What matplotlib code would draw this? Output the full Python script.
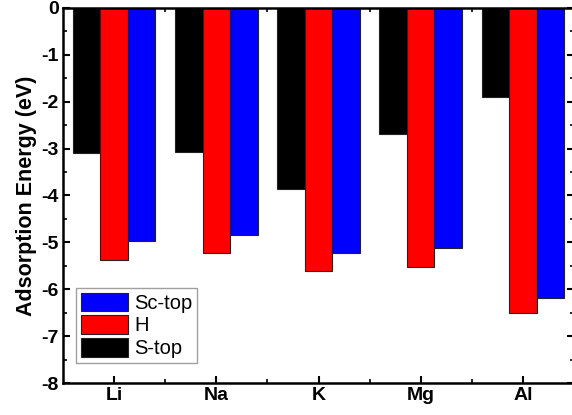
import matplotlib
matplotlib.use("Agg")
import matplotlib.pyplot as plt
import numpy as np
from matplotlib.ticker import MultipleLocator, FixedLocator

plt.rcParams['font.family'] = ['Liberation Sans', 'DejaVu Sans']
plt.rcParams['axes.unicode_minus'] = False

metals = ["Li", "Na", "K", "Mg", "Al"]
s_top = [-3.10, -3.07, -3.86, -2.69, -1.89]
h_site = [-5.38, -5.23, -5.61, -5.52, -6.51]
sc_top = [-4.98, -4.84, -5.22, -5.12, -6.18]

series = [("S-top", s_top, "#000000"),
          ("H", h_site, "#ff0000"),
          ("Sc-top", sc_top, "#0000ff")]

fig = plt.figure(figsize=(5.72, 4.15), dpi=100)
W, H = 572, 415
ax = fig.add_axes([63 / W, 1 - 383 / H, (574 - 63) / W, (383 - 8) / H])

x = np.arange(len(metals))
width = 0.27
handles = []
for i, (name, vals, col) in enumerate(series):
    b = ax.bar(x + (i - 1) * width, vals, width, color=col,
               edgecolor="#222222", linewidth=0.8, label=name, zorder=2)
    handles.append(b)

ax.set_xlim(-0.5, len(metals) - 0.5)
ax.set_ylim(-8, 0)
ax.set_xticks(x)
ax.set_xticklabels(metals, fontsize=14, fontweight="bold")
ax.xaxis.set_minor_locator(FixedLocator(x[:-1] + 0.5))
ax.yaxis.set_major_locator(MultipleLocator(1))
ax.yaxis.set_minor_locator(MultipleLocator(0.5))
for lab in ax.get_yticklabels():
    lab.set_fontweight("bold")
    lab.set_fontsize(14)

ax.tick_params(which="major", direction="in", length=5, width=1.5,
               top=True, right=True, pad=3)
ax.tick_params(which="minor", direction="in", length=3, width=1.2,
               top=True, right=True)
for sp in ax.spines.values():
    sp.set_linewidth(1.8)

ax.set_ylabel("Adsorption Energy (eV)", fontsize=15.5, fontweight="bold",
              labelpad=3)

leg = ax.legend(handles[::-1], [s[0] for s in series][::-1],
                loc="lower left", bbox_to_anchor=(0.025, 0.053),
                fontsize=14.5, frameon=True, fancybox=False,
                edgecolor="#888888", handlelength=2.35, handleheight=1.05,
                labelspacing=0.12, handletextpad=0.3, borderpad=0.25,
                borderaxespad=0.0)
leg.get_frame().set_linewidth(1.0)

fig.savefig("out.png", dpi=100)
